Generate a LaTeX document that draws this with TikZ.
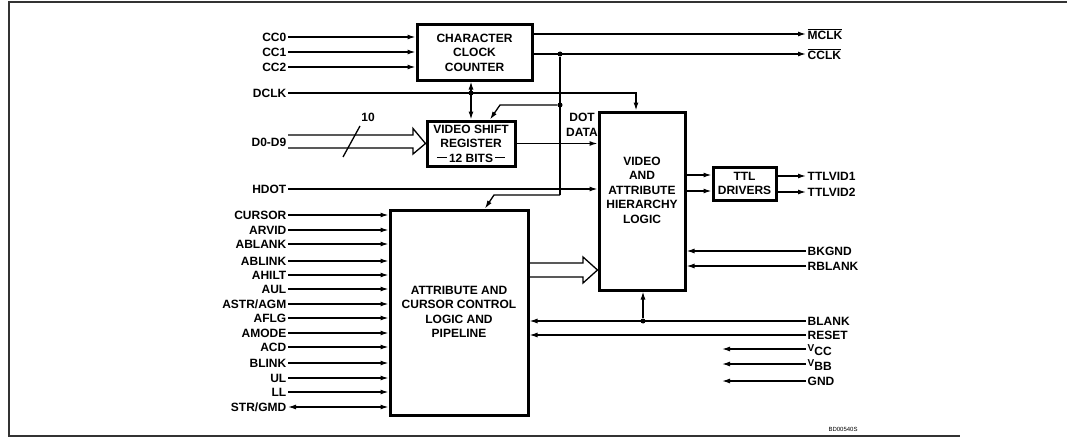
\documentclass[tikz,border=0pt]{standalone}
\usepackage{fontspec}
\setmainfont{Liberation Sans}
\usetikzlibrary{arrows.meta}
\begin{document}
\begin{tikzpicture}[x=1pt,y=-1pt,
  font=\fontsize{12}{14.5}\selectfont\bfseries,
  blk/.style={draw,line width=3pt,align=center,inner sep=0pt},
  lab/.style={inner sep=1.5pt},
  wire/.style={line width=1.3pt},
  arr/.style={wire,-{Latex[length=8pt,width=5pt]}},
  darr/.style={wire,{Latex[length=8pt,width=5pt]}-{Latex[length=8pt,width=5pt]}},
  dot/.style={circle,fill,inner sep=0pt,minimum size=5pt},
  bus/.style={line width=1.3pt,line join=miter}]
\useasboundingbox (0,0) rectangle (1067,444);
% frame
\draw[line width=1.5pt,black!80] (1067,2) -- (9,2) -- (9,436) -- (960,436);

% blocks
\node[blk,minimum width=115pt,minimum height=55pt] (ccc) at (474.5,52.5) {CHARACTER\\CLOCK\\COUNTER};
\node[blk,minimum width=88pt,minimum height=45pt] (vsr) at (471,143.5) {VIDEO SHIFT\\REGISTER\\\rule[3.8pt]{10pt}{1.2pt}\,12 BITS\,\rule[3.8pt]{10pt}{1.2pt}};
\node[blk,minimum width=86pt,minimum height=178pt] (vah) at (642,201) {};
\node[align=center] at (642,190) {VIDEO\\AND\\ATTRIBUTE\\HIERARCHY\\LOGIC};
\node[blk,minimum width=63pt,minimum height=33pt] (ttl) at (744.5,183.5) {TTL\\DRIVERS};
\node[blk,minimum width=138pt,minimum height=205pt] (acc) at (459,312.5) {};
\node[align=center] at (459,312) {ATTRIBUTE AND\\CURSOR CONTROL\\LOGIC AND\\PIPELINE};

% left inputs to CCC
\foreach \n/\t/\y in {cc0/CC0/37,cc1/CC1/52,cc2/CC2/67}{
  \node[lab,anchor=east] (\n) at (288,\y) {\t};
  \draw[arr] (\n.east) -- (\n.east -| ccc.west);
}
% DCLK
\node[lab,anchor=east] (dclk) at (288,93) {DCLK};
\coordinate (dck) at (636,93);
\draw[arr] (dclk.east) -- (dck) -- (dck |- vah.north);
\draw[darr] (ccc.south -| vsr.north) -- (vsr.north);
\node[dot] (d1) at (vsr.north |- dclk.east) {};

% D0-D9 bus
\node[lab,anchor=east] (dd) at (288,142) {D0-D9};
\draw[bus] (dd.east |- 0,135) -- (413,135) -- (413,128.5) -- (vsr.west) -- (413,154) -- (413,148) -- (dd.east |- 0,148);
\draw[wire] (343,157) -- (360,126);
\node at (368,117) {10};

% HDOT
\node[lab,anchor=east] (hdot) at (288,189) {HDOT};
\draw[arr] (hdot.east) -- (hdot.east -| vah.west);

% CCC outputs
\node[lab,anchor=west] (mclk) at (806,34) {$\overline{\mbox{\bfseries MCLK}}$};
\node[lab,anchor=west] (cclk) at (806,54) {$\overline{\mbox{\bfseries CCLK}}$};
\draw[arr] (ccc.east |- mclk.west) -- (mclk.west);
\draw[arr] (ccc.east |- cclk.west) -- (cclk.west);

% CCLK distribution
\node[dot] (j1) at (560,54) {};
\node[dot] (j2) at (560,105) {};
\coordinate (b1) at (560,195);
\coordinate (b2) at (494,195);
\coordinate (b3) at (500,105);
\draw[wire] (j1) -- (b1);
\draw[arr] (b1) -- (b2) -- (acc.north -| 485,0);
\draw[arr] (j2) -- (b3) -- (vsr.north -| 490,0);

% VSR output
\draw[arr] (vsr.east) -- (vsr.east -| vah.west);
\node[align=center] at (582,125) {DOT\\DATA};

% ACC -> VAH bus
\draw[bus] (acc.east |- 0,263) -- (583,263) -- (583,257) -- (vah.west |- 0,270) -- (583,283) -- (583,277) -- (acc.east |- 0,277);

% VAH -> TTL
\draw[arr] (vah.east |- 0,175) -- (ttl.west |- 0,175);
\draw[arr] (vah.east |- 0,191) -- (ttl.west |- 0,191);
\node[lab,anchor=west] (tv1) at (806,176) {TTLVID1};
\node[lab,anchor=west] (tv2) at (806,192) {TTLVID2};
\draw[arr] (ttl.east |- tv1.west) -- (tv1.west);
\draw[arr] (ttl.east |- tv2.west) -- (tv2.west);

% ACC inputs
\foreach \n/\t/\y in {i1/CURSOR/215,i2/ARVID/230,i3/ABLANK/244,i4/ABLINK/261,i5/AHILT/275,i6/AUL/289,i7/ASTR\slash AGM/304,i8/AFLG/318,i9/AMODE/333,i10/ACD/347,i11/BLINK/363,i12/UL/378,i13/LL/392}{
  \node[lab,anchor=east] (\n) at (288,\y) {\t};
  \draw[arr] (\n.east) -- (\n.east -| acc.west);
}
\node[lab,anchor=east] (i14) at (288,407) {STR\slash GMD};
\draw[darr] (i14.east) -- (i14.east -| acc.west);

% right-side inputs
\node[lab,anchor=west] (bk) at (806,251) {BKGND};
\node[lab,anchor=west] (rb) at (806,266) {RBLANK};
\node[lab,anchor=west] (bl) at (806,321) {BLANK};
\node[lab,anchor=west] (rs) at (806,335) {RESET};
\draw[arr] (bk.west) -- (bk.west -| vah.east);
\draw[arr] (rb.west) -- (rb.west -| vah.east);
\draw[arr] (bl.west) -- (bl.west -| acc.east);
\node[dot] (j3) at (643,321) {};
\draw[arr] (j3) -- (vah.south -| j3);
\draw[arr] (rs.west) -- (rs.west -| acc.east);

\node[lab,anchor=west] (vcc) at (806,350) {{\fontsize{10}{10}\selectfont V}\raisebox{-4pt}{CC}};
\node[lab,anchor=west] (vbb) at (806,365) {{\fontsize{10}{10}\selectfont V}\raisebox{-4pt}{BB}};
\node[lab,anchor=west] (gnd) at (806,381) {GND};
\coordinate (pv) at (722,0);
\draw[arr] (vcc.west |- 0,349) -- (pv |- 0,349);
\draw[arr] (vbb.west |- 0,364) -- (pv |- 0,364);
\draw[arr] (gnd.west) -- (pv |- gnd.west);

\node[font=\fontsize{6}{6}\selectfont] at (843,429) {BD00540S};
\end{tikzpicture}
\end{document}
